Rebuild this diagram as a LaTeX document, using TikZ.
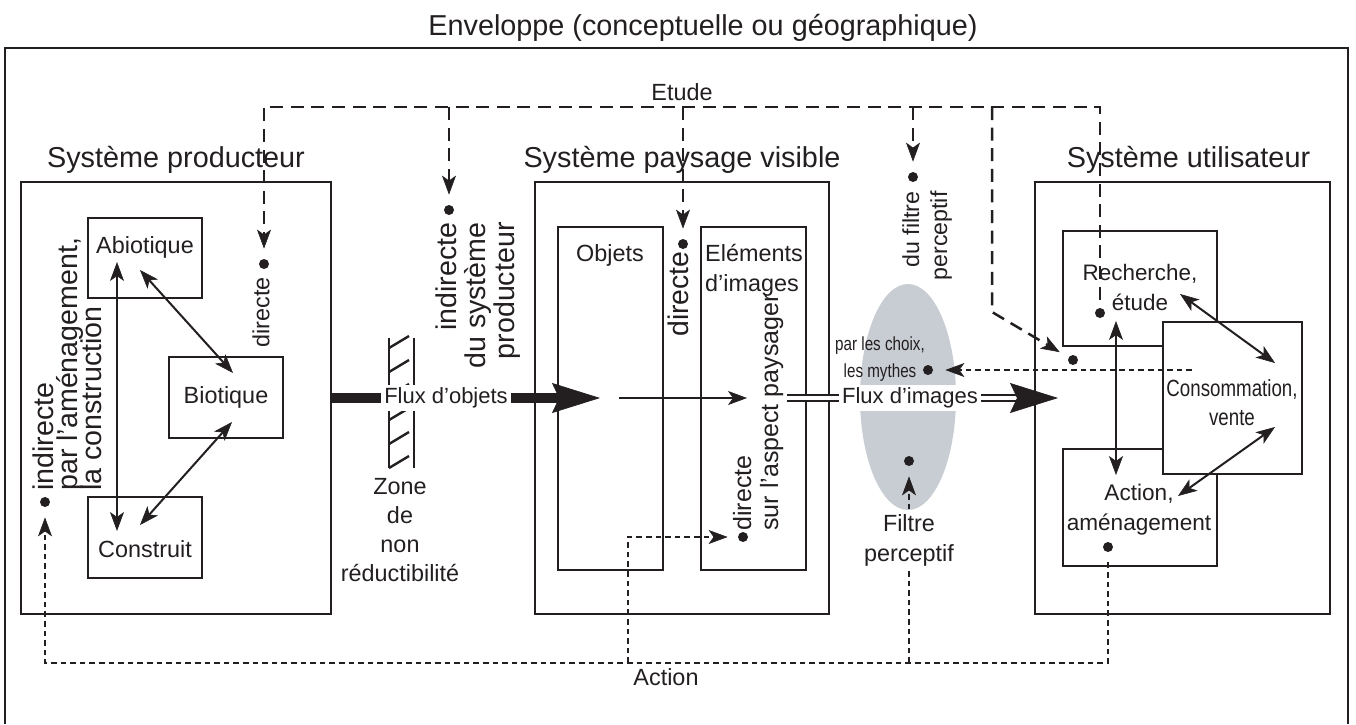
\documentclass[tikz,border=0pt]{standalone}
\usepackage{fontspec}
\setmainfont{Liberation Sans}
\newfontfamily\narrowfont[FakeStretch=0.8]{Liberation Sans}
\usetikzlibrary{arrows.meta,positioning,fit,shapes.geometric}

\definecolor{ink}{RGB}{35,31,32}
\definecolor{filtregris}{RGB}{200,204,211}

\tikzset{
  pointe/.tip={Stealth[length=9.5pt,width=7pt,inset=2.5pt,line width=0.3pt]},
  grande/.tip={Stealth[length=24pt,width=15pt,inset=3.5pt,line width=0.3pt]},
  cadre/.style={draw=ink, line width=1.25pt},
  sysbox/.style={draw=ink, line width=1.4pt, inner sep=0pt},
  subbox/.style={draw=ink, fill=white, line width=1.4pt, inner sep=0pt},
  head/.style={text=ink, inner sep=0pt, font=\fontsize{14.4}{17}\selectfont},
  txt/.style={text=ink, inner sep=0pt, align=center, font=\fontsize{11.7}{15}\selectfont},
  rot/.style={text=ink, inner sep=0pt, rotate=90},
  dotpt/.style={circle, fill=ink, inner sep=0pt, minimum size=5pt},
  lien/.style={draw=ink, line width=1pt, pointe-pointe},
  fleche/.style={draw=ink, line width=1pt, -pointe},
  etude/.style={draw=ink, line width=1.25pt, dash pattern=on 6.5pt off 3.8pt, -pointe},
  action/.style={draw=ink, line width=1.15pt, dash pattern=on 2.8pt off 2pt, -pointe},
  hachure/.style={draw=ink, line width=1.2pt},
}

\begin{document}
\begin{tikzpicture}[x=0.5pt, y=-0.5pt]
  \useasboundingbox (0,0) rectangle (1356,724);
  %% enveloppe
  \draw[cadre] (5,724) -- (5,48) -- (1348,48) -- (1348,724);
  \node[head, anchor=base] (tenv) at (703,35) {Enveloppe (conceptuelle ou géographique)};

  %% les trois systemes
  \node[sysbox, fit={(21,182) (331,614)}] (prod) {};
  \node[sysbox, fit={(535,182) (829,614)}] (vis) {};
  \node[sysbox, fit={(1035,182) (1330,614)}] (util) {};
  \node[head, above=3.5pt of prod] (tprod) {Système producteur};
  \node[head, above=3.5pt of vis] (tvis) {Système paysage visible};
  \node[head, above=3.5pt of util, xshift=3pt] (tutil) {Système utilisateur};

  %% filtre perceptif
  \node[ellipse, fill=filtregris, inner sep=0pt, minimum width=48pt, minimum height=113pt] (filtre) at (908,397) {};

  %% systeme producteur
  \node[subbox, fit={(88,218) (202,298)}] (abio) {};
  \node[subbox, fit={(169,357) (283,438)}] (bio) {};
  \node[subbox, fit={(88,497) (202,578)}] (constr) {};
  \node[txt, anchor=base] (tabio) at (145,253) {Abiotique};
  \node[txt, anchor=base] (tbio) at (226,403) {Biotique};
  \node[txt, anchor=base] (tconstr) at (145,557) {Construit};

  %% systeme paysage visible
  \node[subbox, fit={(558,227) (663,570)}] (obj) {};
  \node[subbox, fit={(701,227) (806,570)}] (elem) {};
  \node[txt, anchor=base] (tobj) at (610,261) {Objets};
  \node[txt, anchor=base, align=left] (telem) at (754,291) {Eléments\\d'images};

  %% systeme utilisateur
  \node[subbox, fit={(1063,231) (1217,346)}] (rech) {};
  \node[subbox, fit={(1063,449) (1217,566)}] (act) {};
  \node[subbox, fit={(1163,322) (1302,474)}] (cons) {};
  \node[txt, anchor=base, font=\fontsize{11.2}{15}\selectfont] (trech) at (1140,310) {Recherche,\\étude};
  \node[txt, anchor=base, font=\fontsize{11.3}{15}\selectfont] (tact) at (1139,530) {Action,\\aménagement};
  \node[txt, anchor=base, font=\narrowfont\fontsize{11.7}{14.5}\selectfont] (tcons) at (1232,425) {Consommation,\\vente};

  %% points et textes verticaux
  \node[dotpt] (dprod) at (264,264) {};
  \node[rot, anchor=mid east, font=\fontsize{11.7}{14}\selectfont] (tdprod) at (264,277) {directe};
  \node[dotpt] (iprod) at (45,502) {};
  \node[rot, anchor=base west, align=left, font={\fontsize{14.3}{12}\selectfont\lineskiplimit=-20pt}] (tiprod) at (101,491) {indirecte\\par l'aménagement,\\la construction};
  \node[dotpt] (iind) at (449,210) {};
  \node[rot, anchor=base east, align=right, font=\fontsize{14.3}{14.3}\selectfont] (tiind) at (514,222) {indirecte\\du système\\producteur};
  \node[dotpt] (dvis) at (683,244) {};
  \node[rot, anchor=mid east, font=\fontsize{14.2}{14}\selectfont] (tdvis) at (683,251) {directe};
  \node[dotpt] (dasp) at (743,537) {};
  \node[rot, anchor=base west, align=left, font=\fontsize{12.5}{13.5}\selectfont] (tdasp) at (778,531) {directe\\sur l'aspect paysager};
  \node[dotpt] (pfil) at (913,177) {};
  \node[rot, anchor=base east, align=right, font=\fontsize{11.6}{14}\selectfont] (tpfil) at (947,191) {du filtre\\perceptif};
  \node[dotpt] (pmyth) at (928,370) {};
  \node[text=ink, inner sep=0pt, align=center, anchor=base, font=\narrowfont\fontsize{9.5}{13.5}\selectfont] (tmyth) at (880,377) {par les choix,\\les mythes};
  \node[dotpt] (pfiltre) at (909,461) {};
  \node[dotpt] (prech) at (1100,313) {};
  \node[dotpt] (pact) at (1108,547) {};
  \node[dotpt] (putil) at (1073,360) {};

  %% liens internes
  \coordinate (a1) at (117,262); \coordinate (c1) at (117,531);
  \coordinate (a2) at (140,270); \coordinate (b2) at (233,373);
  \coordinate (b3) at (232,422); \coordinate (c3) at (140,525);
  \draw[lien] (a1) -- (c1);
  \draw[lien] (a2) -- (b2);
  \draw[lien] (b3) -- (c3);
  \coordinate (r1) at (1116,321); \coordinate (ac1) at (1116,475);
  \coordinate (r2) at (1180,294); \coordinate (co2) at (1275,363);
  \coordinate (co3) at (1275,427); \coordinate (ac3) at (1178,496);
  \draw[lien] (r1) -- (ac1);
  \draw[lien] (r2) -- (co2);
  \draw[lien] (co3) -- (ac3);

  %% zone de non reductibilite
  \draw[hachure] (389,338) -- (389,468) (414,338) -- (414,468);
  \foreach \y in {348,372,...,468}
    \draw[hachure] (389,\y) -- ++(20,-12);
  \node[txt, anchor=base, font=\fontsize{11.7}{14.35}\selectfont] (tzone) at (400,581) {Zone\\de\\non\\réductibilité};

  %% flux d'objets
  \node[txt, fill=white, inner sep=1.5pt, font=\fontsize{11}{13}\selectfont] (fobj) at (446,398) {Flux d'objets};
  \coordinate (pobj) at (600,398);
  \draw[draw=ink, line width=5.3pt] (prod.east) -- (fobj.west);
  \draw[draw=ink, line width=5.3pt, -grande] (fobj.east) -- (pobj);
  \coordinate (oa) at (619,398); \coordinate (eb) at (747,398);
  \draw[fleche] (oa) -- (eb);

  %% flux d'images
  \node[txt, fill=white, inner sep=1.5pt, font=\fontsize{11}{13}\selectfont] (fimg) at (910,398) {Flux d'images};
  \coordinate (imgA) at (787,398);
  \coordinate (imgB) at (1022,398);
  \coordinate (imgC) at (1058,398);
  \draw[draw=ink, line width=1pt, double=white, double distance=2pt] (imgA) -- (fimg.west) (fimg.east) -- (imgB);
  \draw[draw=ink, line width=0.2pt, -grande] (imgB) -- (imgC);

  %% etude
  \coordinate (etNE) at (1100,107);
  \coordinate (etNW) at (264,107);
  \coordinate (coude) at (992,312);
  \draw[etude, shorten <=4pt, shorten >=5pt] (prech) -- (etNE) -- (etNW) -- (dprod);
  \foreach \cible in {iind,dvis,pfil}
    \draw[etude, shorten >=5pt] (\cible |- etNE) -- (\cible);
  \draw[etude, shorten >=5pt] (coude |- etNE) -- (coude) -- (putil);
  \node[txt, anchor=base] (tetude) at (682,100) {Etude};

  %% action
  \coordinate (acSW) at (45,663);
  \coordinate (pied) at (628,663);
  \coordinate (consA) at (1192,370);
  \draw[action, shorten <=5pt, shorten >=5pt] (pact) -- (pact |- acSW) -- (acSW) -- (iprod);
  \draw[action, shorten >=5pt] (pied) -- (pied |- dasp) -- (dasp);
  \draw[action, shorten >=5pt] (pfiltre |- acSW) -- (pfiltre);
  \draw[action, shorten >=6pt] (consA) -- (pmyth);
  \node[txt, anchor=base] (taction) at (666,685) {Action};
  \node[txt, anchor=base, fill=white, inner sep=1pt] (tfiltre) at (909,561) {Filtre\\perceptif};
\end{tikzpicture}
\end{document}
